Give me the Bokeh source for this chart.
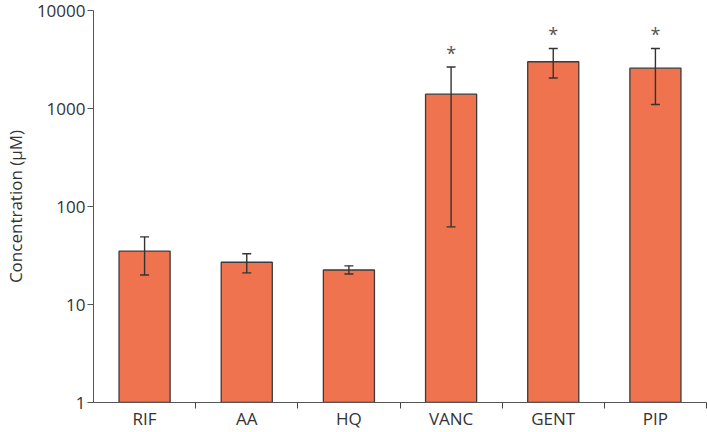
from bokeh.plotting import figure
from bokeh.models import ColumnDataSource, Whisker, FixedTicker, PrintfTickFormatter, Range1d
from bokeh.core.properties import value
from bokeh.embed import file_html
from bokeh.resources import INLINE

categories = ["RIF", "AA", "HQ", "VANC", "GENT", "PIP"]
means = [35, 27, 22.5, 1400, 3000, 2580]
err_upper = [49, 33, 24.8, 2650, 4100, 4100]
err_lower = [20, 21, 20.5, 62, 2050, 1100]
marks = ["", "", "", "*", "*", "*"]

xpos = [i + 0.5 for i in range(len(categories))]
src = ColumnDataSource(dict(x=xpos, top=means, upper=err_upper, lower=err_lower,
                            mark=marks, bottom=[1] * len(means)))

FONT = "Open Sans"
p = figure(width=707, height=432, output_backend="svg", toolbar_location=None,
           y_axis_type="log", x_range=Range1d(0, len(categories)),
           y_range=Range1d(1, 10000),
           min_border=0, min_border_left=91, min_border_right=1, min_border_top=10,
           min_border_bottom=30)
p.outline_line_color = None
p.grid.visible = False
p.background_fill_color = "white"

p.vbar(x="x", width=0.5, bottom="bottom", top="top", source=src,
       fill_color="#EE734E", line_color="#3a3a3a", line_width=1.3)

w = Whisker(base="x", upper="upper", lower="lower", source=src,
            line_color="#333333", line_width=1.4, level="overlay")
w.upper_head.size = 9
w.lower_head.size = 9
w.upper_head.line_color = "#333333"
w.lower_head.line_color = "#333333"
w.upper_head.line_width = 1.4
w.lower_head.line_width = 1.4
p.add_layout(w)

p.text(x="x", y="upper", text="mark", source=src, text_align="center",
       text_baseline="middle", y_offset=-14, text_font=value(FONT),
       text_font_size="18px", text_color="#555555")

# x axis
xa = p.xaxis[0]
xa.ticker = FixedTicker(ticks=xpos, minor_ticks=list(range(1, len(categories) + 1)))
xa.major_label_overrides = {x: c for x, c in zip(xpos, categories)}
xa.major_tick_out = 0
xa.major_tick_in = 0
xa.minor_tick_out = 6
xa.minor_tick_in = 0
xa.minor_tick_line_color = "#444444"
xa.axis_line_color = "#555555"
xa.major_label_text_font = FONT
xa.major_label_text_font_size = "17px"
xa.major_label_text_color = "#333333"
xa.major_label_standoff = -2

# y axis
ya = p.yaxis[0]
ya.ticker = FixedTicker(ticks=[1, 10, 100, 1000, 10000], minor_ticks=[])
ya.formatter = PrintfTickFormatter(format="%d")
ya.major_tick_out = 6
ya.major_tick_in = 0
ya.minor_tick_out = 0
ya.minor_tick_in = 0
ya.major_tick_line_color = "#555555"
ya.axis_line_color = "#555555"
ya.major_label_text_font = FONT
ya.major_label_text_font_size = "17px"
ya.major_label_text_color = "#333333"
ya.major_label_standoff = 2
ya.axis_label = "Concentration (μM)"
ya.axis_label_text_font = FONT
ya.axis_label_text_font_style = "normal"
ya.axis_label_text_font_size = "17px"
ya.axis_label_text_color = "#333333"
ya.axis_label_standoff = 7

open("out.html", "w").write(file_html(p, INLINE))
